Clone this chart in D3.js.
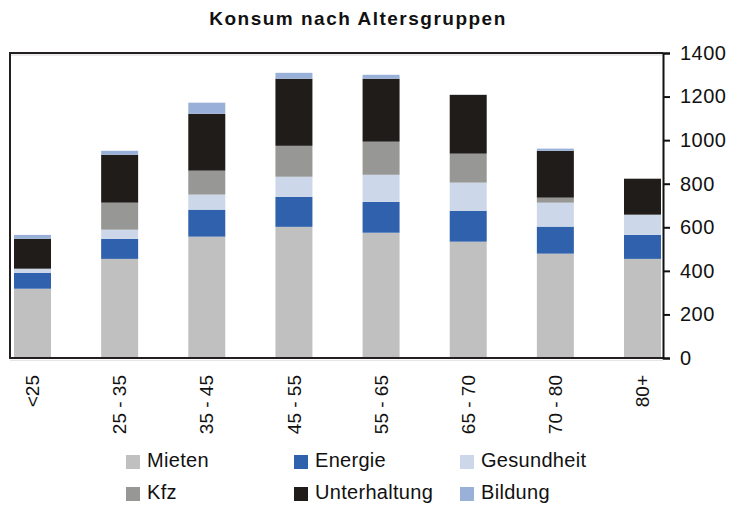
<!DOCTYPE html>
<html>
<head>
<meta charset="utf-8">
<script src="https://cdn.jsdelivr.net/npm/d3@7"></script>
<style>
  body { margin: 0; background: #fff; }
  text { font-family: "Liberation Sans", Arial, sans-serif; fill: #111; }
</style>
</head>
<body>
<div id="chart"></div>
<script>
// Data
const groups = ["<25", "25 - 35", "35 - 45", "45 - 55", "55 - 65", "65 - 70", "70 - 80", "80+"];
const seriesNames = ["Mieten", "Energie", "Gesundheit", "Kfz", "Unterhaltung", "Bildung"];
const mieten       = [318, 455, 557, 602, 575, 534, 479, 455];
const energie      = [ 73,  92, 124, 138, 142, 142, 124, 110];
const gesundheit   = [ 19,  42,  69,  92, 124, 129, 110,  93];
const kfz          = [  0, 124, 110, 142, 152, 133,  23,   0];
const unterhaltung = [137, 220, 261, 308, 289, 270, 215, 165];
const bildung      = [ 18,  18,  51,  27,  18,   0,  10,   0];
const yTicks = [0, 200, 400, 600, 800, 1000, 1200, 1400];

const colours = ["#c0c0c0", "#3061ad", "#ccd8ea", "#979795", "#201c1a", "#99b0d8"];

const width = 747;
const height = 510;
const margin = { top: 53, right: 84, bottom: 152, left: 10 };

const svg = d3.select("#chart").append("svg")
    .attr("width", width)
    .attr("height", height);

// build table for the stack
const values = [mieten, energie, gesundheit, kfz, unterhaltung, bildung];
const table = groups.map((g, i) => {
  const row = { group: g };
  seriesNames.forEach((s, j) => row[s] = values[j][i]);
  return row;
});
const stacked = d3.stack().keys(seriesNames)(table);

const x = d3.scalePoint()
    .domain(groups)
    .range([32.5, 642.5]);
const barWidth = 37;

const y = d3.scaleLinear()
    .domain([0, 1400])
    .range([height - margin.bottom, margin.top]);

const plotRight = width - margin.right;

// title
svg.append("text")
    .attr("x", 358)
    .attr("y", 25)
    .attr("text-anchor", "middle")
    .style("font-size", "19px")
    .style("font-weight", "bold")
    .style("letter-spacing", "1.5px")
    .text("Konsum nach Altersgruppen");

// light shadow lines of the frame
svg.append("line")
    .attr("x1", margin.left).attr("x2", plotRight)
    .attr("y1", margin.top + 2).attr("y2", margin.top + 2)
    .attr("stroke", "#d6d6d6").attr("stroke-width", 1);
svg.append("line")
    .attr("x1", margin.left).attr("x2", plotRight)
    .attr("y1", y(0) + 2.5).attr("y2", y(0) + 2.5)
    .attr("stroke", "#e6e6e6").attr("stroke-width", 1);

// bars
svg.append("g")
  .selectAll("g")
  .data(stacked)
  .join("g")
    .attr("fill", (d, i) => colours[i])
  .selectAll("rect")
  .data(d => d)
  .join("rect")
    .attr("x", d => x(d.data.group) - barWidth / 2)
    .attr("y", d => y(d[1]))
    .attr("width", barWidth)
    .attr("height", d => y(d[0]) - y(d[1]));

// frame (left, top, bottom)
svg.append("path")
    .attr("d", `M${plotRight},${margin.top}H${margin.left}V${y(0)}H${plotRight}`)
    .attr("fill", "none")
    .attr("stroke", "#231f20")
    .attr("stroke-width", 2);

// right axis
const yAxis = d3.axisRight(y)
    .tickValues(yTicks)
    .tickSize(7)
    .tickPadding(10)
    .tickFormat(d3.format("d"));

const axisG = svg.append("g")
    .attr("transform", `translate(${plotRight},0)`)
    .call(yAxis);
axisG.select(".domain").attr("stroke", "#111").attr("stroke-width", 2);
axisG.selectAll(".tick line").attr("stroke", "#111").attr("stroke-width", 2);
axisG.selectAll(".tick text")
    .attr("fill", "#111")
    .style("font-size", "20px")
    .style("font-family", "'Liberation Sans', Arial, sans-serif")
    .style("letter-spacing", "0.5px");

// x labels, rotated
svg.append("g")
  .selectAll("text")
  .data(groups)
  .join("text")
    .attr("transform", d => `translate(${x(d)},375) rotate(-90)`)
    .attr("text-anchor", "end")
    .attr("dy", "0.35em")
    .style("font-size", "19px")
    .text(d => d);

// legend
const legendCols = [126, 294, 460];
const legendRows = [455, 487];
const legend = svg.append("g")
  .selectAll("g")
  .data(seriesNames)
  .join("g")
    .attr("transform", (d, i) => `translate(${legendCols[i % 3]},${legendRows[Math.floor(i / 3)]})`);

legend.append("rect")
    .attr("width", 14)
    .attr("height", 14)
    .attr("fill", (d, i) => colours[i]);

legend.append("text")
    .attr("x", 21)
    .attr("y", 12)
    .style("font-size", "20px")
    .style("letter-spacing", "0.3px")
    .text(d => d);
</script>
</body>
</html>
